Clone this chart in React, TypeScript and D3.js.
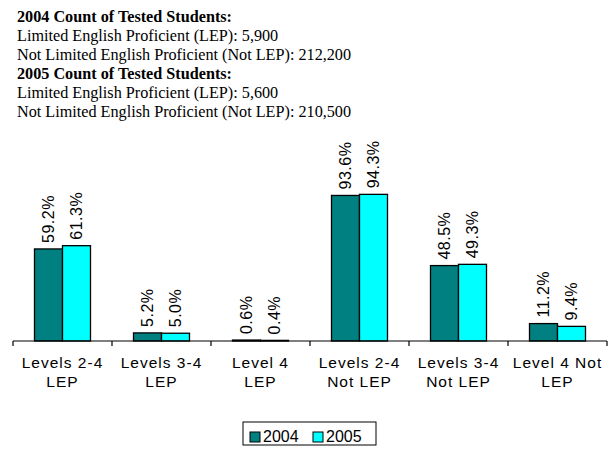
import { useEffect } from "react";
import * as d3 from "d3";

// chart data
const categories = [
  ["Levels 2-4", "LEP"],
  ["Levels 3-4", "LEP"],
  ["Level 4", "LEP"],
  ["Levels 2-4", "Not LEP"],
  ["Levels 3-4", "Not LEP"],
  ["Level 4 Not", "LEP"],
];
const seriesNames = ["2004", "2005"];
const values2004 = [59.2, 5.2, 0.6, 93.6, 48.5, 11.2];
const values2005 = [61.3, 5.0, 0.4, 94.3, 49.3, 9.4];
const seriesColors = ["#008080", "#00FFFF"];

const headerLines = [
  { text: "2004 Count of Tested Students:", bold: true },
  { text: "Limited English Proficient (LEP): 5,900", bold: false },
  { text: "Not Limited English Proficient (Not LEP): 212,200", bold: false },
  { text: "2005 Count of Tested Students:", bold: true },
  { text: "Limited English Proficient (LEP): 5,600", bold: false },
  { text: "Not Limited English Proficient (Not LEP): 210,500", bold: false },
];

const width = 614;
const height = 449;
const sans = "Arial, 'Liberation Sans', Helvetica, sans-serif";
const serif = "'Times New Roman', 'Liberation Serif', serif";

export default function App() {
  useEffect(() => {
    document.body.style.margin = "0";
  }, []);

  const baseline = 341;
  const x0 = d3
    .scaleBand<number>()
    .domain(d3.range(categories.length))
    .range([13, 607]);
  const bw = x0.bandwidth();
  const x1 = d3
    .scaleBand<string>()
    .domain(seriesNames)
    .range([bw / 2 - 28, bw / 2 + 28]);
  const y = d3.scaleLinear().domain([0, 100]).range([baseline, baseline - 155.5]);

  const series = [values2004, values2005];

  return (
    <svg width={width} height={height} style={{ display: "block" }}>
      <rect width={width} height={height} fill="#fff" />

      {headerLines.map((l, i) => (
        <text
          key={i}
          x={17}
          y={22 + i * 19}
          fontFamily={serif}
          fontSize={16.2}
          fontWeight={l.bold ? "bold" : "normal"}
          fill="#000"
        >
          {l.text}
        </text>
      ))}

      {/* bars */}
      {categories.map((_, ci) => (
        <g key={ci} transform={`translate(${x0(ci)},0)`}>
          {seriesNames.map((s, si) => {
            const v = series[si][ci];
            const bx = x1(s)!;
            return (
              <g key={s}>
                <rect
                  x={bx}
                  y={y(v)}
                  width={x1.bandwidth()}
                  height={baseline - y(v)}
                  fill={seriesColors[si]}
                  stroke="#000"
                  strokeWidth={1.3}
                />
                <text
                  transform={`translate(${bx + x1.bandwidth() / 2},${y(v) - 6}) rotate(-90)`}
                  textAnchor="start"
                  dominantBaseline="central"
                  fontFamily={sans}
                  fontSize={16}
                  letterSpacing={0.5}
                  fill="#000"
                >
                  {v.toFixed(1) + "%"}
                </text>
              </g>
            );
          })}
        </g>
      ))}

      {/* category axis */}
      <line x1={13} x2={607} y1={baseline} y2={baseline} stroke="#000" strokeWidth={1.2} />
      {d3.range(categories.length + 1).map((i) => {
        const tx = 13 + i * bw;
        return (
          <line key={i} x1={tx} x2={tx} y1={baseline} y2={baseline + 5} stroke="#000" strokeWidth={1.2} />
        );
      })}
      {categories.map((c, ci) => (
        <text
          key={ci}
          x={x0(ci)! + bw / 2}
          textAnchor="middle"
          fontFamily={sans}
          fontSize={15.5}
          letterSpacing={1}
          fill="#000"
        >
          {c.map((line, li) => (
            <tspan key={li} x={x0(ci)! + bw / 2} y={368 + li * 19}>
              {line}
            </tspan>
          ))}
        </text>
      ))}

      {/* legend */}
      <rect x={243} y={422} width={133} height={23} fill="#fff" stroke="#000" strokeWidth={1} />
      {seriesNames.map((s, si) => (
        <g key={s} transform={`translate(${250 + si * 63},0)`}>
          <rect x={0} y={432} width={10} height={10} fill={seriesColors[si]} stroke="#000" strokeWidth={1} />
          <text x={13} y={442} fontFamily={sans} fontSize={16} fill="#000">
            {s}
          </text>
        </g>
      ))}
    </svg>
  );
}
